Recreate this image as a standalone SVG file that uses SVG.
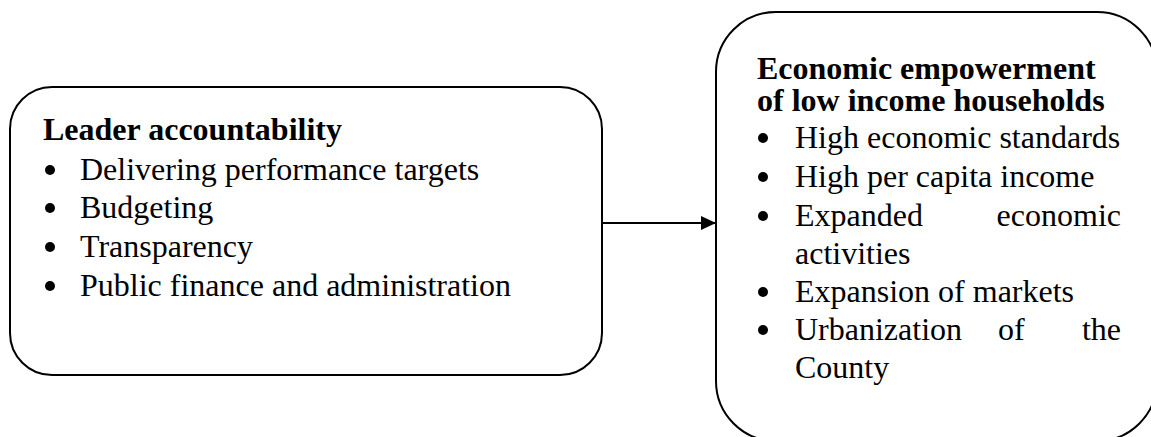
<svg xmlns="http://www.w3.org/2000/svg" width="1151" height="437" viewBox="0 0 1151 437">
<style>
.box{fill:#fff;stroke:#000;stroke-width:2}
.t{font-family:"Liberation Serif","Times New Roman",serif;font-size:32px;fill:#000}
.b{font-weight:bold}
.dot{fill:#000}
.conn{stroke:#000;stroke-width:2;fill:none}
</style>
<defs>
<marker id="ah" markerWidth="15" markerHeight="14" refX="15" refY="7" orient="auto" markerUnits="userSpaceOnUse">
<path d="M0,0 L15,7 L0,14 Z" fill="#000"/>
</marker>
</defs>
<rect width="1151" height="437" fill="#fff"/>
<g id="leader">
<rect class="box" x="10" y="87" width="592" height="288" rx="42" ry="42"/>
<text class="t b" x="43" y="140">Leader accountability</text>
<circle class="dot" cx="50" cy="170" r="5"/>
<text class="t" x="80" y="180">Delivering performance targets</text>
<circle class="dot" cx="50" cy="208" r="5"/>
<text class="t" x="80" y="218">Budgeting</text>
<circle class="dot" cx="50" cy="247" r="5"/>
<text class="t" x="80" y="257">Transparency</text>
<circle class="dot" cx="50" cy="286" r="5"/>
<text class="t" x="80" y="296">Public finance and administration</text>
</g>
<g id="empowerment">
<rect class="box" x="716" y="12" width="441" height="429" rx="60" ry="60"/>
<text class="t b" x="757" y="79">Economic empowerment</text>
<text class="t b" x="757" y="111">of low income households</text>
<circle class="dot" cx="763" cy="138" r="5"/>
<text class="t" x="795" y="148">High economic standards</text>
<circle class="dot" cx="763" cy="177" r="5"/>
<text class="t" x="795" y="187">High per capita income</text>
<circle class="dot" cx="763" cy="216" r="5"/>
<text class="t" x="795" y="226">Expanded</text>
<text class="t" x="1121" y="226" text-anchor="end">economic</text>
<text class="t" x="795" y="264">activities</text>
<circle class="dot" cx="763" cy="292" r="5"/>
<text class="t" x="795" y="302">Expansion of markets</text>
<circle class="dot" cx="763" cy="330" r="5"/>
<text class="t" x="795" y="340">Urbanization</text>
<text class="t" x="998" y="340">of</text>
<text class="t" x="1121" y="340" text-anchor="end">the</text>
<text class="t" x="795" y="378">County</text>
</g>
<g id="connectors">
<line class="conn" x1="602" y1="223" x2="716" y2="223" marker-end="url(#ah)"/>
</g>
</svg>
